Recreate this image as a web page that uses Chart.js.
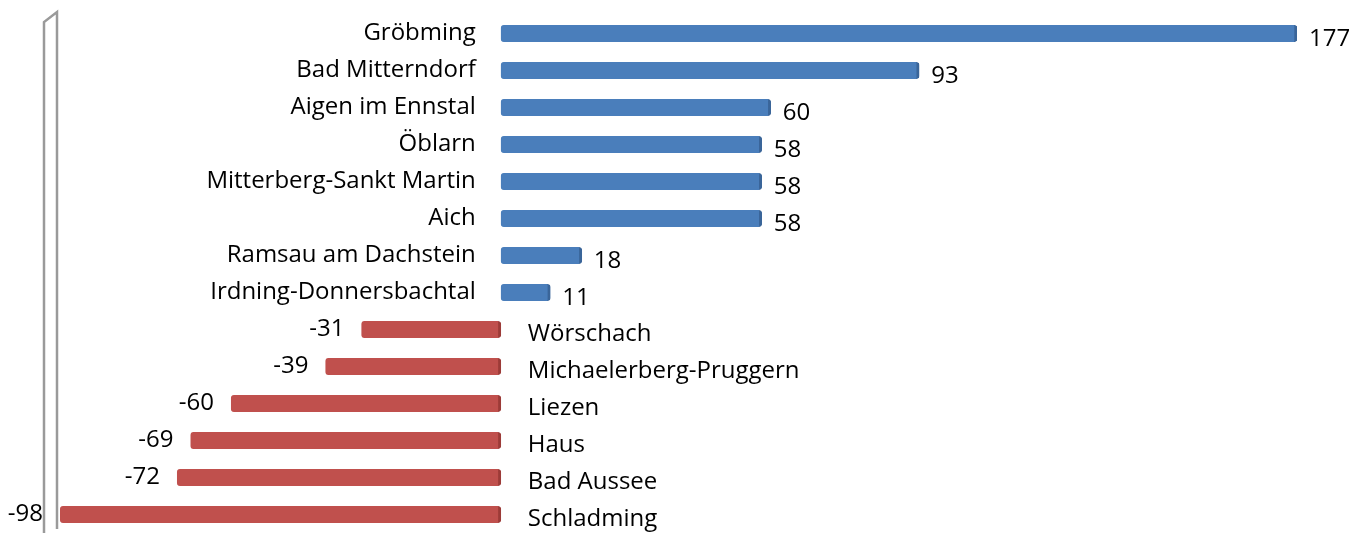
<!DOCTYPE html>
<html>
<head>
<meta charset="utf-8">
<script src="https://cdn.jsdelivr.net/npm/chart.js@4/dist/chart.umd.min.js"></script>
<style>
  html, body { margin: 0; padding: 0; background: #fff; }
  #wrap { width: 1359px; height: 533px; }
</style>
</head>
<body>
<div id="wrap"><canvas id="chart"></canvas></div>
<script>
const categories = ['Gröbming', 'Bad Mitterndorf', 'Aigen im Ennstal', 'Öblarn', 'Mitterberg-Sankt Martin',
    'Aich', 'Ramsau am Dachstein', 'Irdning-Donnersbachtal', 'Wörschach', 'Michaelerberg-Pruggern',
    'Liezen', 'Haus', 'Bad Aussee', 'Schladming'];
const values = [177, 93, 60, 58, 58, 58, 18, 11, -31, -39, -60, -69, -72, -98];
const axisMin = -98;
const axisMax = 177;

const font = '24px "Open Sans", sans-serif';

// left "wall" of the 3D chart
const wallPlugin = {
    id: 'wall',
    beforeDatasetsDraw(chart) {
        const c = chart.ctx;
        const a = chart.chartArea;
        c.save();
        c.strokeStyle = '#9a9a9a';
        c.lineWidth = 2.5;
        c.beginPath();
        c.moveTo(a.left - 16, chart.height);
        c.lineTo(a.left - 16, a.top + 7);
        c.lineTo(a.left - 3, a.top - 3);
        c.lineTo(a.left - 3, chart.height - 4);
        c.stroke();
        c.restore();
    }
};

const labelPlugin = {
    id: 'labels',
    afterDatasetsDraw(chart) {
        const c = chart.ctx;
        const meta = chart.getDatasetMeta(0);
        const zero = chart.scales.x.getPixelForValue(0);
        c.save();
        c.font = font;
        c.fillStyle = '#000';
        c.textBaseline = 'alphabetic';
        meta.data.forEach((bar, i) => {
            const v = values[i];
            if (v >= 0) {
                c.textAlign = 'right';
                c.fillText(categories[i], zero - 25, bar.y + 6);
                c.textAlign = 'left';
                c.fillText(String(v), bar.x + 12, bar.y + 12);
            } else {
                c.textAlign = 'left';
                c.fillText(categories[i], zero + 27, bar.y + 11);
                c.textAlign = 'right';
                c.fillText(String(v), bar.x - 17, bar.y + 6);
            }
        });
        c.restore();
    }
};

const ctx = document.getElementById('chart').getContext('2d');
new Chart(ctx, {
    type: 'bar',
    data: {
        labels: categories,
        datasets: [{
            data: values,
            backgroundColor: values.map(v => v >= 0 ? '#4a7ebb' : '#c0504d'),
            borderColor: values.map(v => v >= 0 ? '#3a6599' : '#9c3b38'),
            borderWidth: {top: 0, bottom: 0, left: 0, right: 3},
            borderSkipped: false,
            borderRadius: 3,
            barThickness: 17
        }]
    },
    options: {
        indexAxis: 'y',
        responsive: true,
        maintainAspectRatio: false,
        animation: false,
        layout: {padding: {left: 60, right: 62, top: 15, bottom: 0}},
        plugins: {legend: {display: false}, tooltip: {enabled: false}},
        scales: {
            x: {display: false, min: axisMin, max: axisMax},
            y: {display: false}
        }
    },
    plugins: [wallPlugin, labelPlugin]
});
</script>
</body>
</html>
